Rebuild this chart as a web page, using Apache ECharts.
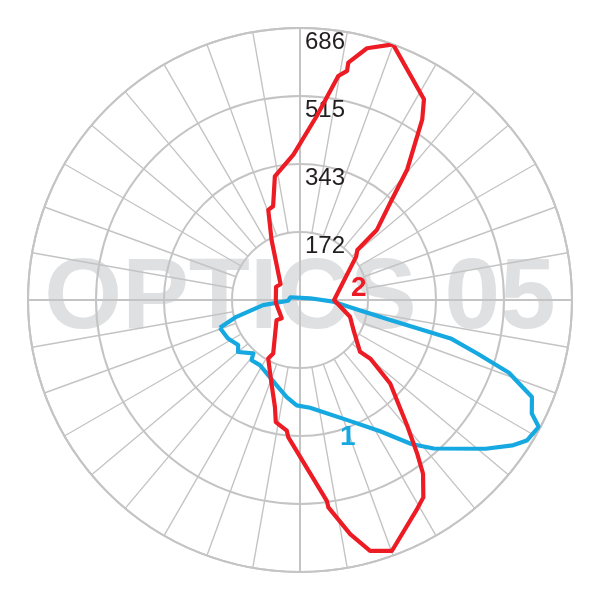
<!DOCTYPE html>
<html>
<head>
<meta charset="utf-8">
<script src="https://cdn.jsdelivr.net/npm/echarts@6/dist/echarts.min.js"></script>
<style>
html, body { margin: 0; padding: 0; background: #fff; }
#main { width: 600px; height: 600px; }
</style>
</head>
<body>
<div id="main"></div>
<script>
// rings of the polar grid (cd)
var radiusTicks = [0, 171.5, 343, 514.5, 686];
var tickLabels = ['', '172', '343', '515', '686'];

// curve 2 (red): [value, angle], angle clockwise from the top
var curve2 = [
    [61, 270], [69, 299], [63, 309], [168, 334.7], [241, 340.6], [246, 344],
    [318, 348.5], [367, 357.4], [466, 5.2], [573, 9.7], [590, 11.6], [611, 11.5],
    [657, 14.9], [686, 20], [595, 31.7], [550, 34.1], [426, 39.4], [334, 42.9],
    [263, 47.6], [192, 48.9], [179, 52.3], [86, 90], [133, 108.5], [155, 119.4],
    [200, 130.8], [231, 129.8], [310, 132.8], [416, 139.5], [488, 142.7],
    [537, 144.7], [587, 148], [604, 150.7], [674, 159.9], [657, 164.4],
    [604, 167.9], [528, 172.2], [511, 172.4], [347, 184.9], [331, 185.8],
    [314, 191.2], [277, 193.2], [223, 198.8], [168, 208.5], [151, 206.6],
    [78, 229.4], [65, 225], [61, 262.2], [61, 270]
];

// curve 1 (blue)
var curve1 = [
    [214, 250.9], [166, 255.2], [94, 262.2], [30, 266.6], [25, 286.2],
    [26, 80.4], [84, 92.9], [136, 98.9], [233, 102.5], [392, 104.3],
    [467, 106.8], [558, 109.2], [634, 112.7], [651, 116.1], [682, 118],
    [673, 121.8], [649, 124.4], [600, 128.7], [504, 138], [459, 142.3],
    [388, 148.6], [327, 158.2], [273, 174.7], [266, 181.8], [247, 187.8],
    [223, 195.3], [193, 211.6], [195, 218.8], [179, 221.2], [204, 230],
    [193, 233.9], [206, 241.9], [214, 250.9]
];

var gridColor = '#c4c4c4';
var chart = echarts.init(document.getElementById('main'));

chart.setOption({
    animation: false,
    polar: [
        { center: ['50%', '50%'], radius: 272 },
        { center: ['50%', '50%'], radius: [68, 272] }
    ],
    angleAxis: [{
        polarIndex: 0,
        type: 'value', min: 0, max: 360, interval: 90,
        startAngle: 90, clockwise: true, z: 1,
        axisLine: { lineStyle: { color: gridColor, width: 2 } },
        axisTick: { show: false },
        axisLabel: { show: false },
        splitLine: { lineStyle: { color: gridColor, width: 2 } }
    }, {
        polarIndex: 1,
        type: 'value', min: 0, max: 360, interval: 10,
        startAngle: 90, clockwise: true, z: 1,
        axisLine: { show: false },
        axisTick: { show: false },
        axisLabel: { show: false },
        splitLine: { lineStyle: { color: gridColor, width: 1.4 } }
    }],
    radiusAxis: [{
        polarIndex: 0,
        type: 'value', min: 0, max: 686, interval: 171.5, z: 1,
        axisLine: { show: false },
        axisTick: { show: false },
        axisLabel: {
            inside: true,
            margin: 4,
            showMinLabel: false,
            align: 'left',
            verticalAlign: 'top',
            padding: [2, 0, 0, 9],
            color: '#231f20',
            fontSize: 24,
            fontFamily: 'Liberation Sans',
            formatter: function (v) {
                var i = radiusTicks.indexOf(v);
                return i >= 0 ? tickLabels[i] : '';
            }
        },
        splitLine: { lineStyle: { color: gridColor, width: 2 } }
    }, {
        polarIndex: 1,
        type: 'value', min: 0, max: 1, show: false
    }],
    graphic: [{
        type: 'text', z: 0, left: 'center', top: 250,
        style: {
            text: 'OPTICS 05',
            font: 'bold 100px "Liberation Sans"',
            fill: '#dfe0e2'
        }
    }, {
        type: 'text', z: 10, x: 351, y: 274,
        style: { text: '2', font: 'bold 28px "Liberation Sans"', fill: '#ed1c24' }
    }, {
        type: 'text', z: 10, x: 340, y: 423,
        style: { text: '1', font: 'bold 28px "Liberation Sans"', fill: '#16a9e1' }
    }],
    series: [{
        type: 'line', coordinateSystem: 'polar', polarIndex: 0,
        data: curve2, symbol: 'none', z: 5,
        lineStyle: { color: '#ed1c24', width: 4.2, join: 'round' }
    }, {
        type: 'line', coordinateSystem: 'polar', polarIndex: 0,
        data: curve1, symbol: 'none', z: 4,
        lineStyle: { color: '#16a9e1', width: 4.2, join: 'round' }
    }]
});
</script>
</body>
</html>
